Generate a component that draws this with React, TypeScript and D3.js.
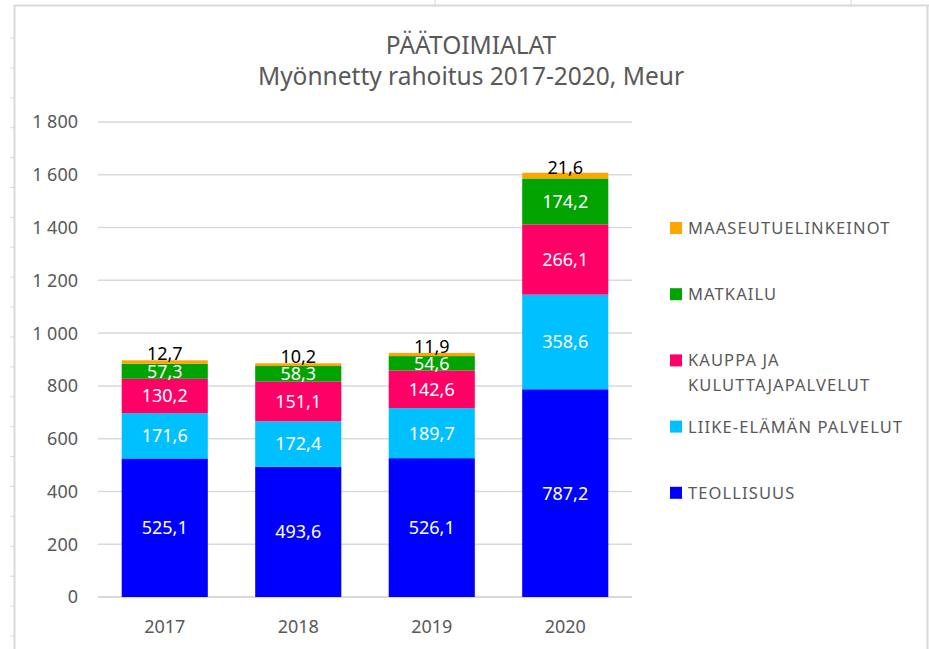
import React from 'react';
import * as d3 from 'd3';

const years = ['2017', '2018', '2019', '2020'];
const seriesNames = ['TEOLLISUUS', 'LIIKE-ELÄMÄN PALVELUT', 'KAUPPA JA KULUTTAJAPALVELUT', 'MATKAILU', 'MAASEUTUELINKEINOT'];
const seriesColors = ['#0000ff', '#00c0ff', '#ff0066', '#00a300', '#ffa500'];
const teollisuus = [525.1, 493.6, 526.1, 787.2];
const liike = [171.6, 172.4, 189.7, 358.6];
const kauppa = [130.2, 151.1, 142.6, 266.1];
const matkailu = [57.3, 58.3, 54.6, 174.2];
const maaseutu = [12.7, 10.2, 11.9, 21.6];
const yTicks = [0, 200, 400, 600, 800, 1000, 1200, 1400, 1600, 1800];
// legend rows, top to bottom (reversed order of stacking)
const legendLines = [
    ['MAASEUTUELINKEINOT'],
    ['MATKAILU'],
    ['KAUPPA JA', 'KULUTTAJAPALVELUT'],
    ['LIIKE-ELÄMÄN PALVELUT'],
    ['TEOLLISUUS'],
];

const W = 929;
const H = 649;
const font = '"Noto Sans", sans-serif';
const grey = '#595959';

export default function App() {
    const values = [teollisuus, liike, kauppa, matkailu, maaseutu];
    const table = years.map((y, i) => {
        const row: any = { year: y };
        seriesNames.forEach((s, j) => { row[s] = values[j][i]; });
        return row;
    });
    const stacked = d3.stack().keys(seriesNames)(table);

    const x = d3.scaleBand().domain(years).range([98, 632]).paddingInner(0.355).paddingOuter(0.1775);
    const y = d3.scaleLinear().domain([0, 1800]).range([597, 122]);
    const fmt = d3.formatLocale({ decimal: ',', thousands: '\u00a0', grouping: [3], currency: ['', '€'] });
    const tickFmt = fmt.format(',d');
    const labelFmt = fmt.format('.1f');

    const sheetTicks = d3.range(38, H, 29.9);

    return (
        <svg width={W} height={H} style={{ position: 'absolute', left: 0, top: 0, background: '#fff' }}>
            {/* sheet frame */}
            <line x1={14.5} x2={14.5} y1={5} y2={H} stroke="#d9d9d9" strokeWidth={2} />
            <line x1={14} x2={W} y1={5.5} y2={5.5} stroke="#d9d9d9" strokeWidth={2} />
            <line x1={927.5} x2={927.5} y1={5} y2={H} stroke="#d9d9d9" strokeWidth={2} />
            {sheetTicks.map((t, i) => (
                <line key={i} x1={10} x2={14} y1={t} y2={t} stroke="#d9d9d9" />
            ))}
            <line x1={435} x2={435} y1={0} y2={5} stroke="#d9d9d9" />
            <line x1={851} x2={851} y1={0} y2={5} stroke="#d9d9d9" />

            <text x={471} y={45} dy="0.36em" textAnchor="middle" fontFamily={font} fontSize={24.5} fill={grey}>PÄÄTOIMIALAT</text>
            <text x={471} y={76} dy="0.36em" textAnchor="middle" fontFamily={font} fontSize={24.5} fill={grey}>Myönnetty rahoitus 2017-2020, Meur</text>

            {yTicks.map(t => (
                <g key={t}>
                    <line x1={98} x2={632} y1={y(t)} y2={y(t)} stroke="#d9d9d9" strokeWidth={t === 0 ? 2 : 1.5} />
                    <text x={78} y={y(t)} dy="0.36em" textAnchor="end" fontFamily={font} fontSize={18} fill={grey}>{tickFmt(t)}</text>
                </g>
            ))}

            {stacked.map((layer, j) => (
                <g key={layer.key} fill={seriesColors[j]}>
                    {layer.map((d, i) => (
                        <rect key={i} x={x(years[i])} width={x.bandwidth()} y={y(d[1])} height={y(d[0]) - y(d[1])} />
                    ))}
                </g>
            ))}

            {stacked.map((layer, j) => (
                <g key={layer.key + '-lab'}>
                    {layer.map((d, i) => {
                        const last = j === stacked.length - 1;
                        const cy = (y(d[0]) + y(d[1])) / 2 - (last ? 8 : 0);
                        return (
                            <text key={i} x={x(years[i])! + x.bandwidth() / 2} y={cy} dy="0.36em" textAnchor="middle"
                                fontFamily={font} fontSize={18} fill={last ? '#000' : '#fff'}>
                                {labelFmt(values[j][i])}
                            </text>
                        );
                    })}
                </g>
            ))}

            {years.map(yr => (
                <text key={yr} x={x(yr)! + x.bandwidth() / 2} y={627} dy="0.36em" textAnchor="middle" fontFamily={font} fontSize={18} fill={grey}>{yr}</text>
            ))}

            {legendLines.map((lines, k) => {
                const ly = 228 + k * 66.2;
                return (
                    <g key={k}>
                        <rect x={670} y={ly - 6} width={12} height={12} fill={seriesColors[seriesNames.length - 1 - k]} />
                        {lines.map((ln, m) => (
                            <text key={m} x={688} y={ly + m * 25} dy="0.36em" fontFamily={font} fontSize={16.5}
                                letterSpacing={1.1} fill={grey}>{ln}</text>
                        ))}
                    </g>
                );
            })}
        </svg>
    );
}
